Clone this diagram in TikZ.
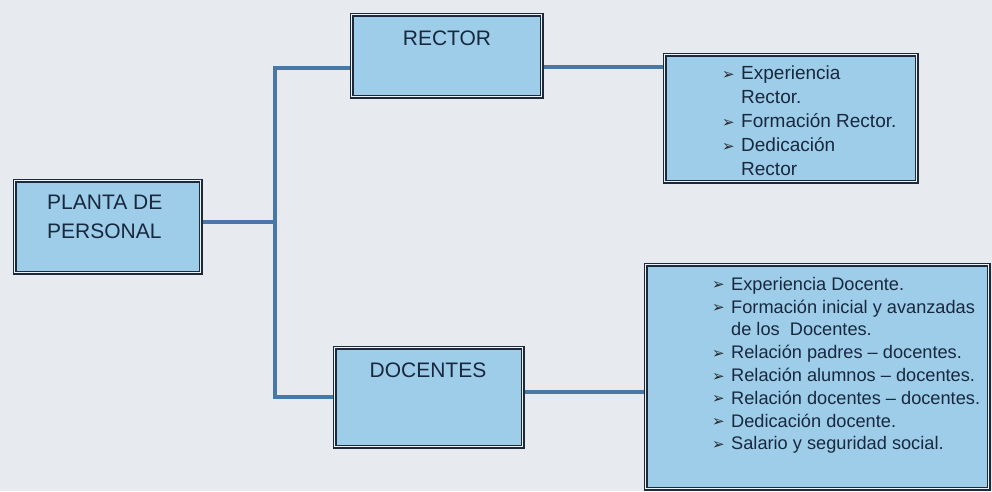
\documentclass[tikz,border=0pt]{standalone}
\usepackage{fontspec}
\setmainfont{Liberation Sans}
\newfontfamily\dv{DejaVu Sans}
\usetikzlibrary{backgrounds}
\definecolor{bgcol}{RGB}{231,235,239}
\definecolor{boxfill}{RGB}{158,205,233}
\definecolor{boxline}{RGB}{30,42,60}
\definecolor{connblue}{RGB}{72,120,166}
\definecolor{txtcol}{RGB}{24,40,62}
\newcommand\bul{\makebox[19pt][l]{\raisebox{0.5pt}{\color{black!85}\dv\fontsize{15}{15}\selectfont ➢}}}
\newcommand\ind{\hspace*{19pt}}
\begin{document}
\begin{tikzpicture}[x=1pt,y=-1pt,
  boxstyle/.style={draw=boxline, line width=1.2pt, double=white!80!boxfill, double distance=1.5pt,
    fill=boxfill, rectangle, inner sep=0pt, anchor=north west},
  connline/.style={draw=connblue, line width=4.5pt},
  titletext/.style={text=txtcol, font=\fontsize{21}{29}\selectfont, inner sep=0pt, align=left},
  liststyle/.style={text=txtcol, inner sep=0pt, align=left, anchor=north west}]
\useasboundingbox (0,0) rectangle (992,491);

% boxes
\node[boxstyle, minimum width=186pt, minimum height=92pt] (planta) at (14,180) {};
\node[boxstyle, minimum width=190pt, minimum height=82pt] (rector) at (351,14) {};
\node[boxstyle, minimum width=252pt, minimum height=127pt] (rlist) at (664,54) {};
\node[boxstyle, minimum width=188pt, minimum height=99pt] (docentes) at (334,347) {};
\node[boxstyle, minimum width=343pt, minimum height=224pt] (dlist) at (645,264) {};

% texts
\node[titletext, anchor=north west] (tplanta) at (47,195) {PLANTA DE\\PERSONAL};
\node[titletext] (trector) at (447,38) {RECTOR};
\node[titletext] (tdocentes) at (428,370) {DOCENTES};

\node[liststyle, font=\fontsize{19}{24}\selectfont] (rtext) at (722,66)
  {\bul Experiencia\\ \ind Rector.\\ \bul Formación Rector.\\ \bul Dedicación\\ \ind Rector};
\node[liststyle, font=\fontsize{18.2}{22.8}\selectfont] (dtext) at (712,277)
  {\bul Experiencia Docente.\\
   \bul Formación inicial y avanzadas\\
   \ind de los\ \ Docentes.\\
   \bul Relación padres – docentes.\\
   \bul Relación alumnos – docentes.\\
   \bul Relación docentes – docentes.\\
   \bul Dedicación docente.\\
   \bul Salario y seguridad social.};

% trunk coordinates
\coordinate (ttop) at (275,68);
\coordinate (tmid) at (275,222);
\coordinate (tbot) at (275,397);
\coordinate (rc) at (600,67);
\coordinate (dc) at (580,392);

\begin{pgfonlayer}{background}
  \fill[bgcol] (0,0) rectangle (992,491);
  \draw[connline] (rector.west |- ttop) -- (ttop) -- (tbot) -- (docentes.west |- tbot);
  \draw[connline] (planta.east |- tmid) -- (tmid);
  \draw[connline] (rector.east |- rc) -- (rlist.west |- rc);
  \draw[connline] (docentes.east |- dc) -- (dlist.west |- dc);
\end{pgfonlayer}
\end{tikzpicture}
\end{document}
